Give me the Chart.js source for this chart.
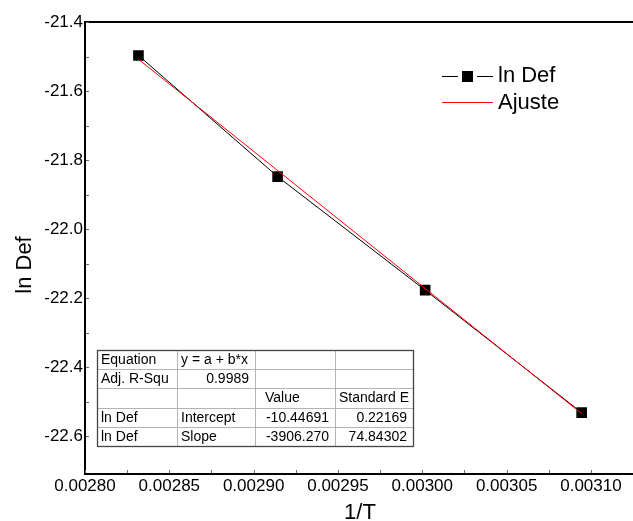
<!DOCTYPE html>
<html><head><meta charset="utf-8">
<script src="https://cdn.jsdelivr.net/npm/chart.js@4/dist/chart.umd.min.js"></script>
<style>html,body{margin:0;padding:0;background:#fff}#wrap{width:633px;height:521px}</style>
</head><body><div id="wrap"><canvas id="c" width="633" height="521"></canvas></div>
<script>
// ---- data ----
const invT = [0.0028317, 0.0029142, 0.0030017, 0.0030945];
const lnDef = [-21.497, -21.848, -22.177, -22.532];
const fitX = [0.0028317, 0.0030945];
const fitY = [-21.508, -22.535];
const xTicks = [0.00280, 0.00285, 0.00290, 0.00295, 0.00300, 0.00305, 0.00310];
const yTicks = [-22.6, -22.4, -22.2, -22.0, -21.8, -21.6, -21.4];
const xTitle = "1/T";
const yTitle = "ln Def";
const seriesNames = ["ln Def", "Ajuste"];
const tableRows = [
  ["Equation", "y = a + b*x", "", ""],
  ["Adj. R-Squ", "0.9989", "", ""],
  ["", "", "Value", "Standard E"],
  ["ln Def", "Intercept", "-10.44691", "0.22169"],
  ["ln Def", "Slope", "-3906.270", "74.84302"]
];

const FONT = "'Liberation Sans', Arial, sans-serif";

const deco = {
  id: 'deco',
  beforeDatasetsDraw(chart) {
    const {ctx, chartArea: a, scales: {x, y}} = chart;
    ctx.save();
    ctx.strokeStyle = '#000';
    ctx.lineWidth = 2;
    ctx.beginPath();
    ctx.moveTo(a.left, a.top); ctx.lineTo(a.left, a.bottom);
    ctx.moveTo(a.left - 1, a.bottom); ctx.lineTo(chart.width, a.bottom);
    ctx.moveTo(a.left - 1, a.top); ctx.lineTo(chart.width, a.top);
    ctx.stroke();
    ctx.lineWidth = 1;
    ctx.strokeStyle = '#666';
    ctx.beginPath();
    for (let i = 0; i < yTicks.length; i++) {
      const vals = [yTicks[i]];
      if (i < yTicks.length - 1) vals.push((yTicks[i] + yTicks[i + 1]) / 2);
      vals.forEach(v => {
        const py = Math.round(y.getPixelForValue(v)) + 0.5;
        ctx.moveTo(a.left + 1, py); ctx.lineTo(a.left + 4, py);
      });
    }
    for (let i = 0; i < xTicks.length; i++) {
      const vals = [xTicks[i]];
      vals.push(xTicks[i] + (xTicks[1] - xTicks[0]) / 2);
      vals.forEach(v => {
        const px = Math.round(x.getPixelForValue(v)) + 0.5;
        if (px < a.right) { ctx.moveTo(px, a.bottom - 1); ctx.lineTo(px, a.bottom - 4); }
      });
    }
    ctx.stroke();
    ctx.restore();
  },
  afterDatasetsDraw(chart) {
    const {ctx, chartArea: a} = chart;
    ctx.save();
    ctx.fillStyle = '#000';
    ctx.font = `22px ${FONT}`;
    ctx.textAlign = 'center';
    ctx.textBaseline = 'middle';
    ctx.fillText(xTitle, 360, 513);
    ctx.save();
    ctx.translate(25, 265);
    ctx.rotate(-Math.PI / 2);
    ctx.fillText(yTitle, 0, 0);
    ctx.restore();

    // legend
    const ds0 = chart.data.datasets[1], ds1 = chart.data.datasets[0];
    ctx.lineWidth = 1;
    ctx.strokeStyle = ds0.borderColor;
    ctx.beginPath();
    ctx.moveTo(442, 76.5); ctx.lineTo(458, 76.5);
    ctx.moveTo(477, 76.5); ctx.lineTo(493, 76.5);
    ctx.stroke();
    ctx.fillStyle = ds0.backgroundColor;
    ctx.fillRect(462, 71, 11, 11);
    ctx.strokeStyle = ds1.borderColor;
    ctx.beginPath();
    ctx.moveTo(442, 102.5); ctx.lineTo(493, 102.5);
    ctx.stroke();
    ctx.fillStyle = '#000';
    ctx.textAlign = 'left';
    ctx.font = `22px ${FONT}`;
    ctx.fillText(seriesNames[0], 498, 76);
    ctx.fillText(seriesNames[1], 498, 103);

    // table
    const cols = [97, 177, 255, 335, 413];
    const top = 350, rh = 19.2, nR = tableRows.length;
    ctx.fillStyle = '#fff';
    ctx.fillRect(cols[0], top, cols[4] - cols[0], rh * nR);
    ctx.strokeStyle = '#b4b4b4';
    ctx.lineWidth = 1;
    ctx.beginPath();
    for (let r = 1; r < nR; r++) {
      const py = Math.round(top + r * rh) + 0.5;
      ctx.moveTo(cols[0], py); ctx.lineTo(cols[4], py);
    }
    for (let c = 1; c < 4; c++) {
      ctx.moveTo(cols[c] + 0.5, top); ctx.lineTo(cols[c] + 0.5, top + rh * nR);
    }
    ctx.stroke();
    ctx.strokeStyle = '#444';
    ctx.lineWidth = 1.3;
    ctx.strokeRect(cols[0] + 0.5, top + 0.5, cols[4] - cols[0], Math.round(rh * nR));
    ctx.font = `14px ${FONT}`;
    ctx.fillStyle = '#000';
    ctx.textBaseline = 'middle';
    const align = [
      ['l', 'l', 'l', 'l'],
      ['l', 'r', 'l', 'l'],
      ['l', 'l', 'v', 'l'],
      ['l', 'l', 'r', 'r'],
      ['l', 'l', 'r', 'r']
    ];
    for (let r = 0; r < nR; r++) {
      const cy = top + r * rh + rh / 2 + 0.5;
      for (let c = 0; c < 4; c++) {
        const t = tableRows[r][c];
        if (!t) continue;
        const al = align[r][c];
        ctx.save();
        ctx.beginPath();
        ctx.rect(cols[c] + 1, top + r * rh, cols[c + 1] - cols[c] - 2, rh);
        ctx.clip();
        if (al === 'r') { ctx.textAlign = 'right'; ctx.fillText(t, cols[c + 1] - 6, cy); }
        else if (al === 'v') { ctx.textAlign = 'left'; ctx.fillText(t, cols[c] + 10, cy); }
        else { ctx.textAlign = 'left'; ctx.fillText(t, cols[c] + 4, cy); }
        ctx.restore();
      }
    }
    ctx.restore();
  }
};

new Chart(document.getElementById('c'), {
  type: 'scatter',
  data: {
    datasets: [
      {
        label: seriesNames[1],
        data: fitX.map((v, i) => ({x: v, y: fitY[i]})),
        showLine: true, borderColor: '#ff0000', borderWidth: 1,
        pointRadius: 0, order: 0
      },
      {
        label: seriesNames[0],
        data: invT.map((v, i) => ({x: v, y: lnDef[i]})),
        showLine: true, borderColor: '#000000', borderWidth: 1,
        pointStyle: 'rect', pointRadius: 7.5, pointBorderWidth: 0,
        backgroundColor: '#000000', pointBackgroundColor: '#000000', order: 1
      }
    ]
  },
  options: {
    responsive: false, animation: false, devicePixelRatio: 1,
    layout: {padding: {top: 22, right: 0, left: 0, bottom: 0}},
    plugins: {legend: {display: false}, tooltip: {enabled: false}},
    scales: {
      x: {
        type: 'linear', min: 0.0028, max: 0.0031205,
        border: {display: false},
        grid: {display: false, drawTicks: false},
        afterBuildTicks: s => { s.ticks = xTicks.map(v => ({value: v})); },
        afterFit: s => { s.height = 47; s.paddingRight = 0; s.paddingLeft = 0; },
        ticks: {
          autoSkip: false, maxRotation: 0, minRotation: 0, padding: 2, color: '#000',
          font: {family: FONT, size: 17},
          callback: v => Number(v).toFixed(5)
        }
      },
      y: {
        type: 'linear', min: -22.71, max: -21.4,
        border: {display: false},
        grid: {display: false, drawTicks: false},
        afterBuildTicks: s => { s.ticks = yTicks.map(v => ({value: v})); },
        afterFit: s => { s.width = 85; s.paddingTop = 0; s.paddingBottom = 0; },
        ticks: {
          autoSkip: false, padding: 2, color: '#000',
          font: {family: FONT, size: 17},
          callback: v => Number(v).toFixed(1)
        }
      }
    }
  },
  plugins: [deco]
});
</script>
</body></html>
